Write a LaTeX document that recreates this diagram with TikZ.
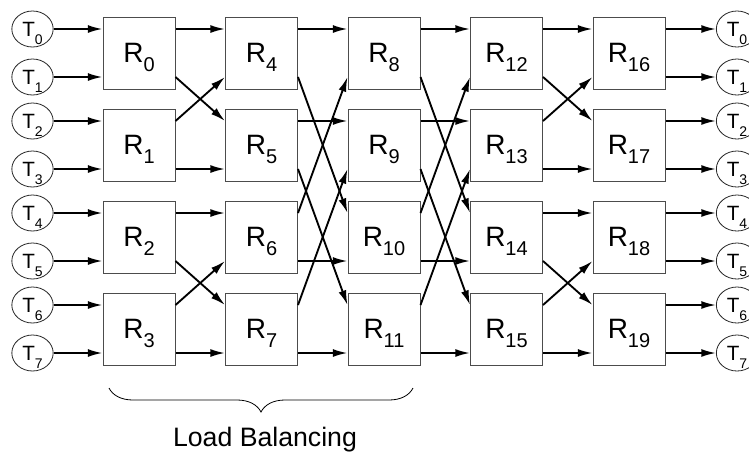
\documentclass[tikz,border=0pt]{standalone}
\usepackage{fontspec}
\setmainfont{Liberation Sans}
\usepackage{tikz}
\usetikzlibrary{arrows.meta,shapes.geometric,decorations.pathreplacing}

\newcommand{\tlbl}[1]{{\fontsize{15.5pt}{15.5pt}\selectfont T}\raisebox{-6pt}{\fontsize{10.5pt}{10.5pt}\selectfont #1}}
\newcommand{\rlbl}[1]{{\fontsize{21pt}{21pt}\selectfont R}\raisebox{-6.75pt}{\fontsize{15pt}{15pt}\selectfont #1}}

\begin{document}
\begin{tikzpicture}[x=0.75pt, y=-0.75pt, >={Latex[length=11pt,width=6pt]},
  router/.style={draw=black!70, line width=0.75pt, minimum width=54pt, minimum height=54pt, inner sep=0pt, text depth=0pt},
  term/.style={ellipse, draw=black!85, line width=0.6pt, minimum width=31pt, minimum height=27pt, inner sep=0pt, text depth=0pt},
  link/.style={->, line width=1.4pt}]
  \useasboundingbox (0,0) rectangle (749,458);

  % terminals in
  \node [term] (Ti0) at (32.5,29)  {\tlbl{0}};
  \node [term] (Ti1) at (32.5,77)  {\tlbl{1}};
  \node [term] (Ti2) at (32.5,121) {\tlbl{2}};
  \node [term] (Ti3) at (32.5,169) {\tlbl{3}};
  \node [term] (Ti4) at (32.5,213) {\tlbl{4}};
  \node [term] (Ti5) at (32.5,261) {\tlbl{5}};
  \node [term] (Ti6) at (32.5,305) {\tlbl{6}};
  \node [term] (Ti7) at (32.5,353) {\tlbl{7}};

  % routers
  \node [router] (R0)  at (139,53)    {\rlbl{0}};
  \node [router] (R1)  at (139,145)   {\rlbl{1}};
  \node [router] (R2)  at (139,237)   {\rlbl{2}};
  \node [router] (R3)  at (139,329)   {\rlbl{3}};
  \node [router] (R4)  at (261.5,53)  {\rlbl{4}};
  \node [router] (R5)  at (261.5,145) {\rlbl{5}};
  \node [router] (R6)  at (261.5,237) {\rlbl{6}};
  \node [router] (R7)  at (261.5,329) {\rlbl{7}};
  \node [router] (R8)  at (384,53)    {\rlbl{8}};
  \node [router] (R9)  at (384,145)   {\rlbl{9}};
  \node [router] (R10) at (384,237)   {\rlbl{10}};
  \node [router] (R11) at (384,329)   {\rlbl{11}};
  \node [router] (R12) at (506.5,53)  {\rlbl{12}};
  \node [router] (R13) at (506.5,145) {\rlbl{13}};
  \node [router] (R14) at (506.5,237) {\rlbl{14}};
  \node [router] (R15) at (506.5,329) {\rlbl{15}};
  \node [router] (R16) at (629,53)    {\rlbl{16}};
  \node [router] (R17) at (629,145)   {\rlbl{17}};
  \node [router] (R18) at (629,237)   {\rlbl{18}};
  \node [router] (R19) at (629,329)   {\rlbl{19}};

  % terminals out
  \node [term] (To0) at (737,29)  {\tlbl{0}};
  \node [term] (To1) at (737,77)  {\tlbl{1}};
  \node [term] (To2) at (737,121) {\tlbl{2}};
  \node [term] (To3) at (737,169) {\tlbl{3}};
  \node [term] (To4) at (737,213) {\tlbl{4}};
  \node [term] (To5) at (737,261) {\tlbl{5}};
  \node [term] (To6) at (737,305) {\tlbl{6}};
  \node [term] (To7) at (737,353) {\tlbl{7}};

  % stage 0
  \draw [link] (Ti0) -- ([yshift=18pt]R0.west);  \draw [link] (Ti1) -- ([yshift=-18pt]R0.west);
  \draw [link] (Ti2) -- ([yshift=18pt]R1.west);  \draw [link] (Ti3) -- ([yshift=-18pt]R1.west);
  \draw [link] (Ti4) -- ([yshift=18pt]R2.west);  \draw [link] (Ti5) -- ([yshift=-18pt]R2.west);
  \draw [link] (Ti6) -- ([yshift=18pt]R3.west);  \draw [link] (Ti7) -- ([yshift=-18pt]R3.west);

  % stage 1
  \draw [link] ([yshift=18pt]R0.east)  -- ([yshift=18pt]R4.west);
  \draw [link] ([yshift=-18pt]R0.east) -- ([yshift=18pt]R5.west);
  \draw [link] ([yshift=18pt]R1.east)  -- ([yshift=-18pt]R4.west);
  \draw [link] ([yshift=-18pt]R1.east) -- ([yshift=-18pt]R5.west);
  \draw [link] ([yshift=18pt]R2.east)  -- ([yshift=18pt]R6.west);
  \draw [link] ([yshift=-18pt]R2.east) -- ([yshift=18pt]R7.west);
  \draw [link] ([yshift=18pt]R3.east)  -- ([yshift=-18pt]R6.west);
  \draw [link] ([yshift=-18pt]R3.east) -- ([yshift=-18pt]R7.west);

  % stage 2
  \draw [link] ([yshift=18pt]R4.east)  -- ([yshift=18pt]R8.west);
  \draw [link] ([yshift=-18pt]R4.east) -- ([yshift=18pt]R10.west);
  \draw [link] ([yshift=18pt]R5.east)  -- ([yshift=18pt]R9.west);
  \draw [link] ([yshift=-18pt]R5.east) -- ([yshift=18pt]R11.west);
  \draw [link] ([yshift=18pt]R6.east)  -- ([yshift=-18pt]R8.west);
  \draw [link] ([yshift=-18pt]R6.east) -- ([yshift=-18pt]R10.west);
  \draw [link] ([yshift=18pt]R7.east)  -- ([yshift=-18pt]R9.west);
  \draw [link] ([yshift=-18pt]R7.east) -- ([yshift=-18pt]R11.west);

  % stage 3
  \draw [link] ([yshift=18pt]R8.east)   -- ([yshift=18pt]R12.west);
  \draw [link] ([yshift=-18pt]R8.east)  -- ([yshift=18pt]R14.west);
  \draw [link] ([yshift=18pt]R9.east)   -- ([yshift=18pt]R13.west);
  \draw [link] ([yshift=-18pt]R9.east)  -- ([yshift=18pt]R15.west);
  \draw [link] ([yshift=18pt]R10.east)  -- ([yshift=-18pt]R12.west);
  \draw [link] ([yshift=-18pt]R10.east) -- ([yshift=-18pt]R14.west);
  \draw [link] ([yshift=18pt]R11.east)  -- ([yshift=-18pt]R13.west);
  \draw [link] ([yshift=-18pt]R11.east) -- ([yshift=-18pt]R15.west);

  % stage 4
  \draw [link] ([yshift=18pt]R12.east)  -- ([yshift=18pt]R16.west);
  \draw [link] ([yshift=-18pt]R12.east) -- ([yshift=18pt]R17.west);
  \draw [link] ([yshift=18pt]R13.east)  -- ([yshift=-18pt]R16.west);
  \draw [link] ([yshift=-18pt]R13.east) -- ([yshift=-18pt]R17.west);
  \draw [link] ([yshift=18pt]R14.east)  -- ([yshift=18pt]R18.west);
  \draw [link] ([yshift=-18pt]R14.east) -- ([yshift=18pt]R19.west);
  \draw [link] ([yshift=18pt]R15.east)  -- ([yshift=-18pt]R18.west);
  \draw [link] ([yshift=-18pt]R15.east) -- ([yshift=-18pt]R19.west);

  % stage 5
  \draw [link] ([yshift=18pt]R16.east) -- (To0);  \draw [link] ([yshift=-18pt]R16.east) -- (To1);
  \draw [link] ([yshift=18pt]R17.east) -- (To2);  \draw [link] ([yshift=-18pt]R17.east) -- (To3);
  \draw [link] ([yshift=18pt]R18.east) -- (To4);  \draw [link] ([yshift=-18pt]R18.east) -- (To5);
  \draw [link] ([yshift=18pt]R19.east) -- (To6);  \draw [link] ([yshift=-18pt]R19.east) -- (To7);

  % brace
  \coordinate (bl) at (109,388);
  \coordinate (br) at (413,388);
  \draw [decorate, decoration={brace, amplitude=18pt, mirror}, line width=0.6pt] (bl) -- (br);
  \node (lb) at (265,440) {\fontsize{20pt}{20pt}\selectfont Load Balancing};
\end{tikzpicture}
\end{document}
